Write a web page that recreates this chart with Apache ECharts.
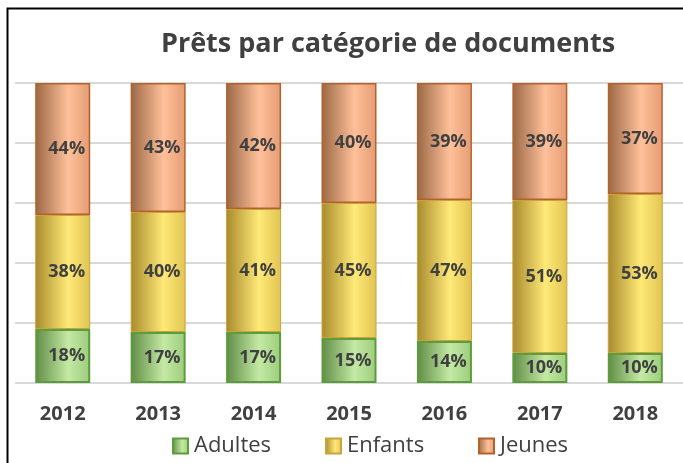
<!DOCTYPE html>
<html>
<head>
<meta charset="utf-8">
<script src="https://cdn.jsdelivr.net/npm/echarts@6/dist/echarts.min.js"></script>
<style>
  html, body { margin: 0; padding: 0; background: #fff; }
  #chart { width: 683px; height: 463px; }
</style>
</head>
<body>
<div id="chart"></div>
<script>
var years = ['2012', '2013', '2014', '2015', '2016', '2017', '2018'];
var adultes = [18, 17, 17, 15, 14, 10, 10];
var enfants = [38, 40, 41, 45, 47, 51, 53];
var jeunes = [44, 43, 42, 40, 39, 39, 37];
var seriesNames = ['Adultes', 'Enfants', 'Jeunes'];
var legendX = [172, 325, 478];

function grad(dark, light, mid) {
    return new echarts.graphic.LinearGradient(0, 0, 1, 0, [
        { offset: 0, color: dark },
        { offset: 0.6, color: light },
        { offset: 1, color: mid }
    ]);
}

var labelStyle = {
    show: true,
    position: 'inside',
    offset: [4, 0],
    formatter: '{c}%',
    color: '#404040',
    fontSize: 18,
    fontWeight: 'bold',
    fontFamily: 'Open Sans'
};

// one legend per item so each sits where it does in the picture
var legends = seriesNames.map(function (name, i) {
    return {
        left: legendX[i],
        top: 435,
        padding: 0,
        icon: 'rect',
        itemWidth: 15,
        itemHeight: 15,
        textStyle: { color: '#404040', fontSize: 22, fontFamily: 'Open Sans', padding: [0, 0, 0, 1] },
        data: [name]
    };
});

var chart = echarts.init(document.getElementById('chart'));
chart.setOption({
    animation: false,
    title: {
        text: 'Prêts par catégorie de documents',
        left: 383,
        top: 26,
        textAlign: 'center',
        textStyle: { color: '#404040', fontSize: 27, fontWeight: 'bold', fontFamily: 'Open Sans' }
    },
    graphic: [{
        type: 'rect',
        shape: { x: 7.5, y: 8.5, width: 700, height: 480 },
        style: { fill: 'none', stroke: '#000', lineWidth: 2 },
        silent: true
    }],
    legend: legends,
    grid: { left: 15, top: 83, width: 670, height: 300 },
    xAxis: {
        type: 'category',
        data: years,
        axisLine: { show: false },
        axisTick: { show: false },
        axisLabel: { margin: 21, color: '#404040', fontSize: 20, fontWeight: 'bold', fontFamily: 'Open Sans' }
    },
    yAxis: {
        type: 'value',
        min: 0,
        max: 100,
        interval: 20,
        axisLabel: { show: false },
        splitLine: { lineStyle: { color: '#d9d9d9', width: 2 } }
    },
    series: [
        {
            name: 'Adultes', type: 'bar', stack: 'total', barWidth: 55,
            data: adultes,
            itemStyle: { color: grad('#5f8c45', '#c4e9a4', '#9ccc7c'), borderColor: '#5c9c3c', borderWidth: 2 },
            label: labelStyle
        },
        {
            name: 'Enfants', type: 'bar', stack: 'total', barWidth: 55,
            data: enfants,
            itemStyle: { color: grad('#a88a2c', '#ffe978', '#e0c452'), borderColor: '#c9a43a', borderWidth: 1 },
            label: labelStyle
        },
        {
            name: 'Jeunes', type: 'bar', stack: 'total', barWidth: 55,
            data: jeunes,
            itemStyle: { color: grad('#9a6844', '#ffc09a', '#e49c74'), borderColor: '#b5622a', borderWidth: 1.5 },
            label: labelStyle
        }
    ]
});
</script>
</body>
</html>
